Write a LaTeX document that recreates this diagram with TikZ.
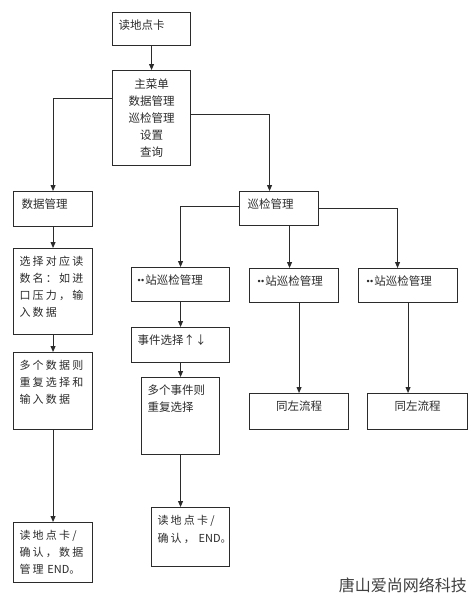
\documentclass[tikz,border=0pt]{standalone}
\usepackage{fontspec}
\usepackage{tikz}
\usetikzlibrary{arrows.meta}
\setmainfont{Noto Sans CJK SC}
\newfontfamily\cjkwide[LetterSpace=20]{Noto Sans CJK SC}
\newfontfamily\latinfont{Liberation Sans}
\definecolor{ink}{HTML}{2B2B2B}
\newcommand{\dotpair}{\raisebox{1pt}{\latinfont\fontsize{9}{9}\selectfont\textbullet\hspace{0.5pt}\textbullet}\hspace{1pt}}

\begin{document}
\begin{tikzpicture}[x=1pt,y=-1pt,
  box/.style={draw=ink,line width=1.1pt,anchor=north west,inner xsep=6pt,inner ysep=5pt,align=left,font=\fontsize{11.5}{17}\selectfont,text=ink},
  flowbox/.style={box,text height=12pt},
  link/.style={draw=ink,line width=0.9pt},
  arr/.style={link,-{Triangle[length=6pt,width=5pt]}}]
\fill[white] (0,0) rectangle (475,598);
\useasboundingbox (0,0) rectangle (475,598);
% top of the flow
\node[flowbox,text width=66pt,text depth=11pt] (rdcard) at (112,12) {读地点卡};
\node[box,align=center,text width=66pt,minimum height=95pt] (menu) at (112,70) {主菜单\\数据管理\\巡检管理\\设置\\查询};
\draw[arr] (rdcard) -- (menu);
% data branch
\node[flowbox,text width=67pt,text depth=13pt] (datamgr) at (13,191) {\hspace{2pt}数据管理};
\node[flowbox,text width=67pt,text depth=64pt,font=\cjkwide\fontsize{11}{17}\selectfont] (pick) at (13,248) {选择对应读\\数名：如进\\口压力，输\\入数据};
\node[flowbox,text width=67pt,text depth=55pt,font=\cjkwide\fontsize{11}{17}\selectfont] (repeatdata) at (13,352) {多个数据则\\重复选择和\\输入数据};
\node[flowbox,text width=67pt,text depth=38pt,font=\cjkwide\fontsize{11}{17}\selectfont] (endleft) at (13,522) {读地点卡/\\确认，数据\\管理{\rmfamily~END。}};
\draw[arr] ([yshift=20pt]menu.west) -| (datamgr.north);
\draw[arr] (datamgr) -- (pick);
\draw[arr] (pick) -- (repeatdata);
\draw[arr] (repeatdata) -- (endleft);
% patrol branch
\node[flowbox,text width=67pt,text depth=12pt] (patrol) at (239,191) {\hspace{2pt}巡检管理};
\node[flowbox,text width=86pt,text depth=12pt] (station1) at (131,267) {\dotpair 站巡检管理};
\node[flowbox,text width=77pt,text depth=12pt] (station2) at (249,268) {\hspace{2pt}\dotpair 站巡检管理};
\node[flowbox,text width=87pt,text depth=12pt] (station3) at (358,268) {\hspace{2pt}\dotpair 站巡检管理};
\node[flowbox,text width=86pt,text depth=13pt] (event) at (131,327) {事件选择↑↓};
\node[flowbox,text width=66pt,text depth=55pt] (repeatevent) at (141,377) {多个事件则\\重复选择};
\node[flowbox,text width=66pt,text depth=37pt,font=\cjkwide\fontsize{11}{18}\selectfont] (endmid) at (151,507) {读地点卡/\\确认，{\rmfamily~END。}};
\node[flowbox,align=center,text width=87pt,text depth=14pt] (same2) at (249,393) {同左流程};
\node[flowbox,align=center,text width=88pt,text depth=14pt] (same3) at (367,393) {同左流程};
\draw[arr] ([yshift=4pt]menu.east) -| ([xshift=-9.5pt]patrol.north);
\draw[arr] ([yshift=2pt]patrol.west) -| (station1.north);
\draw[arr] (patrol.east) -| ([xshift=-10.5pt]station3.north);
\draw[arr] ([xshift=10.5pt]patrol.south) -- ([xshift=10.5pt]patrol.south |- station2.north);
\draw[arr] (station1) -- (event);
\draw[arr] (event) -- (repeatevent);
\draw[arr] (repeatevent.south) -- (repeatevent.south |- endmid.north);
\draw[arr] (same2.north |- station2.south) -- (same2.north);
\draw[arr] (station3.south) -- (station3.south |- same3.north);
% watermark text
\node[font=\fontsize{16}{16}\selectfont,text=black!75,anchor=east,inner sep=0pt] (mark) at (467,585) {唐山爱尚网络科技};
\end{tikzpicture}
\end{document}
